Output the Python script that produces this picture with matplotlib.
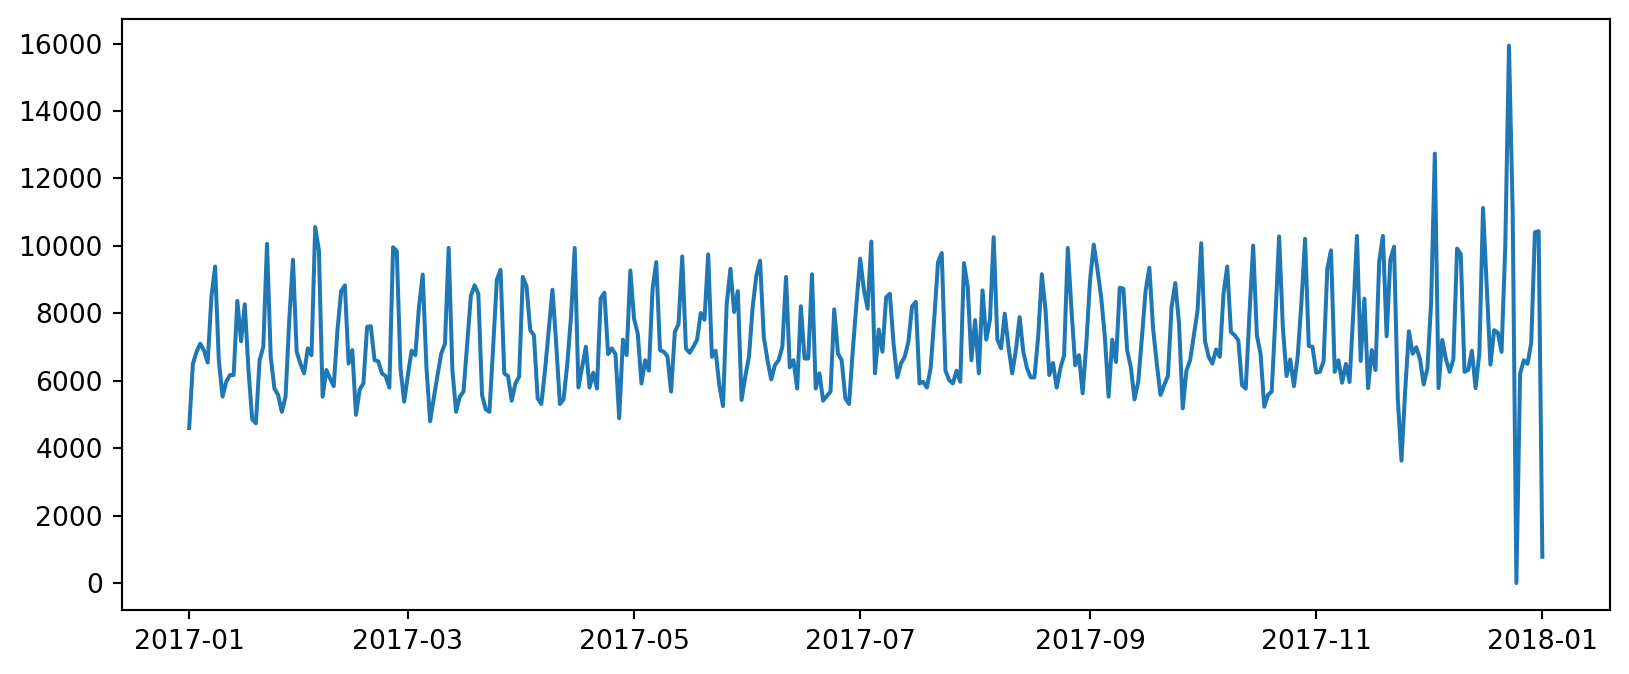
import matplotlib
matplotlib.use("Agg")
import matplotlib.pyplot as plt
import numpy as np
import pandas as pd

# daily values, one list per month of 2017
jan = [4600, 6500, 6860, 7100, 6900, 6540, 8490, 9390, 6610, 5530,
       5970, 6170, 6170, 8370, 7170, 8270, 6320, 4860, 4740, 6610,
       7010, 10060, 6710, 5770, 5580, 5080, 5530, 7800, 9590, 6860, 6510]
feb = [6220, 6960, 6760, 10560, 9870, 5530, 6320, 6070, 5840, 7500,
       8660, 8830, 6510, 6910, 4990, 5740, 5920, 7600, 7620, 6610,
       6580, 6220, 6140, 5800, 9960, 9850, 6370, 5380]
mar = [6170, 6890, 6760, 8200, 9150, 6400, 4800, 5500, 6170, 6810,
       7100, 9940, 6320, 5080, 5530, 5680, 7100, 8530, 8830, 8580,
       5580, 5150, 5080, 7010, 9000, 9290, 6220, 6140, 5410, 5920, 6120]
apr = [9080, 8800, 7500, 7350, 5480, 5310, 6320, 7500, 8700, 7100,
       5310, 5450, 6510, 7900, 9940, 5800, 6410, 7010, 5800, 6240,
       5770, 8440, 8610, 6790, 6960, 6790, 4890, 7220, 6760, 9270]
may = [7840, 7400, 5920, 6610, 6300, 8730, 9520, 6910, 6860, 6730,
       5680, 7450, 7680, 9690, 6960, 6830, 7010, 7220, 8010, 7810,
       9750, 6710, 6890, 5870, 5250, 8290, 9320, 8040, 8660, 5430, 6120]
jun = [6710, 8190, 9130, 9560, 7300, 6610, 6040, 6460, 6610, 7010,
       9080, 6400, 6610, 5770, 8210, 6660, 6660, 9160, 5770, 6220,
       5410, 5550, 5680, 8120, 6810, 6610, 5480, 5310, 6900, 8300]
jul = [9620, 8700, 8140, 10130, 6220, 7520, 6860, 8470, 8580, 7100,
       6100, 6510, 6710, 7150, 8210, 8340, 5920, 5970, 5800, 6370,
       7890, 9520, 9790, 6300, 6020, 5920, 6300, 5970, 9490, 8780, 6610]
aug = [7800, 6220, 8680, 7220, 7810, 10260, 7220, 6960, 7990, 7010,
       6220, 6910, 7890, 6860, 6370, 6100, 6100, 7300, 9160, 8090,
       6170, 6530, 5800, 6370, 6760, 9940, 8090, 6460, 6760, 5630, 7100]
sep = [8980, 10040, 9300, 8480, 7300, 5530, 7220, 6560, 8760, 8730,
       6910, 6400, 5450, 5970, 7300, 8680, 9350, 7550, 6510, 5580,
       5870, 6140, 8190, 8900, 7700, 5180, 6300, 6610, 7350, 8090]
oct_ = [10080, 7180, 6710, 6510, 6930, 6710, 8580, 9390, 7450, 7350,
        7200, 5870, 5770, 7990, 10010, 7350, 6790, 5230, 5580, 5680,
        7890, 10280, 7600, 6140, 6630, 5840, 6710, 8290, 10210, 7030, 7010]
nov = [6240, 6265, 6587, 9329, 9866, 6265, 6609, 5943, 6501, 5964,
       8000, 10296, 6587, 8437, 5782, 6910, 6319, 9544, 10296, 7319,
       9598, 9974, 5500, 3632, 5700, 7469, 6803, 6996, 6641, 5889]
dec = [6373, 8308, 12737, 5782, 7212, 6641, 6265, 6641, 9920, 9759,
       6265, 6319, 6889, 5782, 6800, 11124, 8800, 6480, 7501, 7426,
       6857, 10000, 15940, 10995, 0, 6212, 6609, 6501, 7125, 10404, 10436]
jan_2018 = [783]

values = jan + feb + mar + apr + may + jun + jul + aug + sep + oct_ + nov + dec + jan_2018
dates = pd.date_range("2017-01-01", periods=len(values), freq="D")

W, H, DPI = 1629, 674, 192
fig = plt.figure(figsize=(W / DPI, H / DPI), dpi=DPI)
# axes box placed in pixels to line up with the reference
ax = fig.add_axes([121.5 / W, (H - 610) / H, (1610 - 121.5) / W, (610 - 18.7) / H])
ax.plot(dates, values)

fig.savefig("out.png", dpi=DPI)
